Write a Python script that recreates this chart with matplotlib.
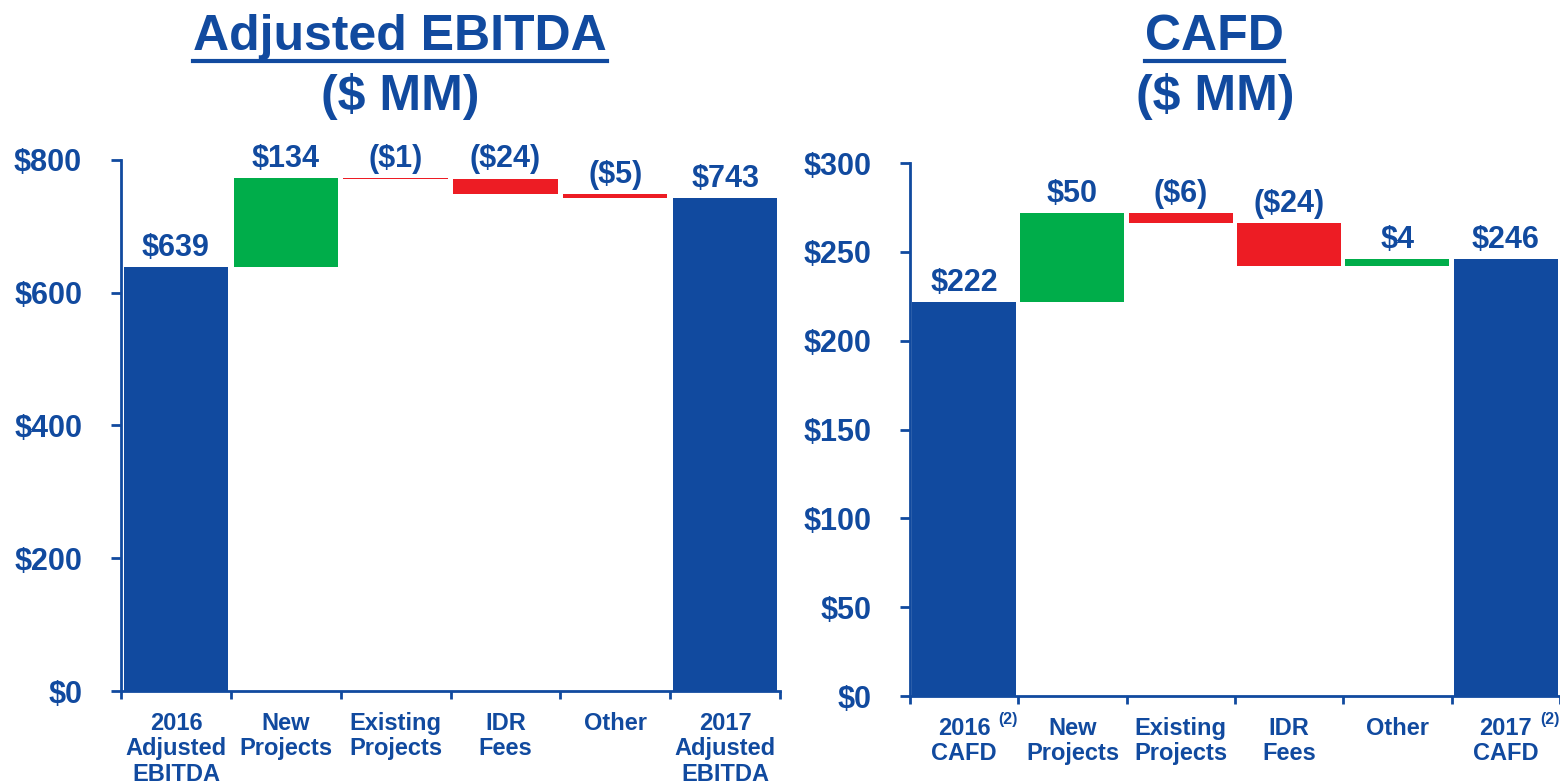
import matplotlib
matplotlib.use("Agg")
import matplotlib.pyplot as plt
from matplotlib import font_manager
from matplotlib.lines import Line2D

# data
ebitda_labels = ["2016\nAdjusted\nEBITDA", "New\nProjects", "Existing\nProjects",
                 "IDR\nFees", "Other", "2017\nAdjusted\nEBITDA"]
ebitda_vals = [639, 134, -1, -24, -5, 743]
cafd_labels = ["2016\nCAFD", "New\nProjects", "Existing\nProjects",
               "IDR\nFees", "Other", "2017\nCAFD"]
cafd_vals = [222, 50, -6, -24, 4, 246]
cafd_notes = {0: "(2)", 5: "(2)"}

BLUE = "#114A9F"
GREEN = "#00AD4A"
RED = "#ED1C24"

names = {f.name for f in font_manager.fontManager.ttflist}
MAIN = "Liberation Sans" if "Liberation Sans" in names else "DejaVu Sans"

plt.rcParams["font.family"] = MAIN
plt.rcParams["font.weight"] = "bold"

fig = plt.figure(figsize=(15.6, 7.84), dpi=100)


def waterfall(ax, vals, labels, ymax, step, width):
    bottoms, heights, colors = [], [], []
    run = 0
    last = len(vals) - 1
    for i, v in enumerate(vals):
        if i == 0 or i == last:
            bottoms.append(0)
            heights.append(v)
            colors.append(BLUE)
            run = v
        else:
            if v >= 0:
                bottoms.append(run)
                colors.append(GREEN)
            else:
                bottoms.append(run + v)
                colors.append(RED)
            heights.append(abs(v))
            run += v
    x = range(len(vals))
    ax.bar(x, heights, bottom=bottoms, color=colors, width=width, linewidth=0)
    for i, v in enumerate(vals):
        txt = f"${v}" if v >= 0 else f"(${-v})"
        ax.annotate(txt, (i, bottoms[i] + heights[i]), xytext=(0, 8),
                    textcoords="offset points", ha="center", va="baseline",
                    fontsize=22, fontweight="bold", color=BLUE)
    ax.set_xlim(-0.5, len(vals) - 0.5)
    ax.set_ylim(0, ymax)
    ax.set_yticks(range(0, ymax + 1, step))
    ax.set_yticklabels([f"${t}" for t in range(0, ymax + 1, step)])
    ax.set_xticks([i - 0.5 for i in range(len(vals) + 1)])
    ax.set_xticklabels([])
    ax.set_xticks(list(x), minor=True)
    ax.set_xticklabels(labels, minor=True, fontsize=17, fontweight="bold",
                       color=BLUE, linespacing=1.14, va="top")
    ax.tick_params(axis="x", which="major", length=6, width=2, color=BLUE, direction="out")
    ax.tick_params(axis="x", which="minor", length=0, pad=15)
    ax.tick_params(axis="y", length=7, width=2, color=BLUE, labelsize=22,
                   labelcolor=BLUE, pad=21)
    for lab in ax.get_yticklabels():
        lab.set_fontweight("bold")
    for s in ["top", "right"]:
        ax.spines[s].set_visible(False)
    for s in ["left", "bottom"]:
        ax.spines[s].set_color(BLUE)
        ax.spines[s].set_linewidth(2)


ax1 = fig.add_axes([0.0776, 0.1186, 0.4224, 0.6774])
waterfall(ax1, ebitda_vals, ebitda_labels, 800, 200, 0.95)
ax2 = fig.add_axes([0.5833, 0.1122, 0.4167, 0.6798])
waterfall(ax2, cafd_vals, cafd_labels, 300, 50, 0.96)

# footnote markers on the CAFD totals
for i, note in cafd_notes.items():
    ax2.annotate(note, (i, 0), xycoords=("data", "axes fraction"),
                 xytext=(24.5, -17), textcoords="offset points",
                 ha="left", va="center", fontsize=11.5, fontweight="bold", color=BLUE)

t1 = fig.text(0.2564, 1 - 37 / 784, "Adjusted EBITDA", ha="center", va="center",
              fontsize=36, fontweight="bold", color=BLUE)
fig.text(0.2564, 1 - 97 / 784, "($ MM)", ha="center", va="center",
         fontsize=36, fontweight="bold", color=BLUE)
t2 = fig.text(0.7788, 1 - 37 / 784, "CAFD", ha="center", va="center",
              fontsize=36, fontweight="bold", color=BLUE)
fig.text(0.7788, 1 - 97 / 784, "($ MM)", ha="center", va="center",
         fontsize=36, fontweight="bold", color=BLUE)

# underline titles
r = fig.canvas.get_renderer()
for t in (t1, t2):
    bb = t.get_window_extent(r).transformed(fig.transFigure.inverted())
    yl = 1 - 61 / 784
    fig.add_artist(Line2D([bb.x0, bb.x1], [yl, yl], color=BLUE, linewidth=3,
                          transform=fig.transFigure))

fig.savefig("out.png", dpi=100)
